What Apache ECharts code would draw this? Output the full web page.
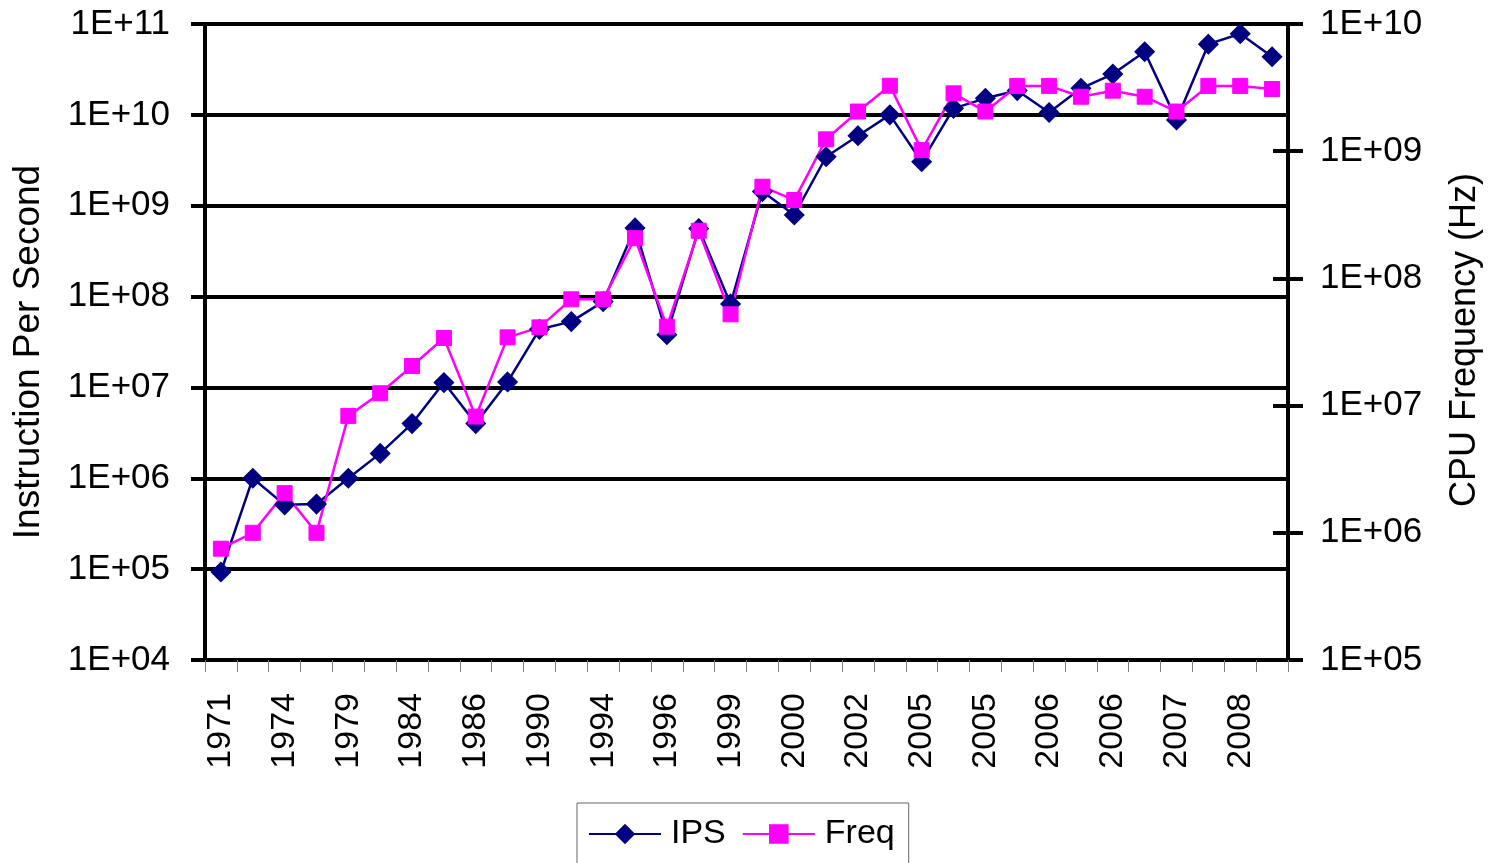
<!DOCTYPE html>
<html>
<head>
<meta charset="utf-8">
<script src="https://cdn.jsdelivr.net/npm/echarts@6/dist/echarts.min.js"></script>
<style>
  html, body { margin: 0; padding: 0; background: #fff; }
  #chart { width: 1491px; height: 863px; }
</style>
</head>
<body>
<div id="chart"></div>
<script>
const categories = ['1971','1972','1974','1976','1979','1982','1984','1985','1986','1988','1990','1992','1994','1995','1996','1997','1999','1999','2000','2001','2002','2003','2005','2005','2005','2006','2006','2006','2006','2007','2007','2008','2008','2008'];
const ipsValues = [9.3e4, 1.0e6, 5.1e5, 5.2e5, 1.0e6, 1.88e6, 4.0e6, 1.13e7, 4.0e6, 1.15e7, 4.36e7, 5.3e7, 8.8e7, 5.7e8, 3.8e7, 5.6e8, 8.3e7, 1.43e9, 7.9e8, 3.46e9, 5.9e9, 1.0e10, 3.05e9, 1.18e10, 1.52e10, 1.85e10, 1.06e10, 1.96e10, 2.81e10, 4.95e10, 8.8e9, 6.0e10, 7.8e10, 4.36e10];
const freqValues = [7.5e5, 1.0e6, 2.05e6, 1.0e6, 8.3e6, 1.25e7, 2.05e7, 3.4e7, 8.2e6, 3.44e7, 4.12e7, 6.85e7, 6.85e7, 2.07e8, 4.17e7, 2.37e8, 5.22e7, 5.26e8, 4.13e8, 1.24e9, 2.05e9, 3.27e9, 1.02e9, 2.85e9, 2.05e9, 3.26e9, 3.26e9, 2.68e9, 2.99e9, 2.68e9, 2.05e9, 3.26e9, 3.26e9, 3.08e9];
const leftRange = [1e4, 1e11];
const rightRange = [1e5, 1e10];
const leftTitle = 'Instruction Per Second';
const rightTitle = 'CPU Frequency (Hz)';

const FONT = 'Liberation Sans';
function sci(v) {
  const e = Math.round(Math.log10(v));
  return '1E+' + String(e).padStart(2, '0');
}

const chart = echarts.init(document.getElementById('chart'), null, { renderer: 'canvas' });
chart.setOption({
  animation: false,
  backgroundColor: '#ffffff',
  textStyle: { fontFamily: FONT },
  grid: { left: 205, right: 203, top: 24, bottom: 203, containLabel: false },
  graphic: [
    {
      type: 'text', x: 29, y: 352, rotation: Math.PI / 2,
      style: { text: leftTitle, font: '37px "Liberation Sans"', fill: '#000', align: 'center', verticalAlign: 'middle' }
    },
    {
      type: 'text', x: 1465, y: 340, rotation: Math.PI / 2,
      style: { text: rightTitle, font: '36px "Liberation Sans"', fill: '#000', align: 'center', verticalAlign: 'middle' }
    }
  ],
  legend: {
    left: 577, top: 803,
    itemWidth: 72, itemHeight: 22, itemGap: 16,
    padding: [14, 14, 14, 11],
    borderColor: '#666666', borderWidth: 1,
    textStyle: { fontSize: 34, color: '#000', fontFamily: FONT, padding: [0, 0, 0, 5] },
    data: ['IPS', 'Freq']
  },
  xAxis: {
    type: 'category',
    data: categories,
    boundaryGap: true,
    axisLine: { show: true, lineStyle: { color: '#000', width: 4 } },
    axisTick: { show: true, interval: 0, length: 12, lineStyle: { color: '#808080', width: 1 } },
    axisLabel: { interval: 1, rotate: 90, margin: 33, fontSize: 34, color: '#000', fontFamily: FONT },
    splitLine: { show: false }
  },
  yAxis: [
    {
      type: 'log', logBase: 10, min: leftRange[0], max: leftRange[1], splitNumber: 7,
      position: 'left',
      axisLine: { show: true, lineStyle: { color: '#000', width: 4 } },
      axisTick: { show: true, length: 14, lineStyle: { color: '#000', width: 4 } },
      axisLabel: { margin: 35, fontSize: 35, color: '#000', fontFamily: FONT, formatter: sci },
      splitLine: { show: true, lineStyle: { color: '#000', width: 4 } },
      minorTick: { show: false }, minorSplitLine: { show: false }
    },
    {
      type: 'log', logBase: 10, min: rightRange[0], max: rightRange[1], splitNumber: 5,
      position: 'right',
      axisLine: { show: true, lineStyle: { color: '#000', width: 4 } },
      axisTick: { show: true, length: 15, lineStyle: { color: '#000', width: 4 } },
      axisLabel: { margin: 32, fontSize: 35, color: '#000', fontFamily: FONT, formatter: sci },
      splitLine: { show: false }
    },
    {
      type: 'log', logBase: 10, min: rightRange[0], max: rightRange[1], splitNumber: 5,
      position: 'right', offset: 0,
      axisLine: { show: false },
      axisTick: { show: true, inside: true, length: 15, lineStyle: { color: '#000', width: 4 } },
      axisLabel: { show: false },
      splitLine: { show: false }
    }
  ],
  series: [
    {
      name: 'IPS', type: 'line', yAxisIndex: 0, data: ipsValues,
      symbol: 'diamond', symbolSize: 19,
      lineStyle: { color: '#000080', width: 2.5 },
      itemStyle: { color: '#000080', borderColor: '#000080', borderWidth: 1.5 },
      emphasis: { disabled: true }
    },
    {
      name: 'Freq', type: 'line', yAxisIndex: 1, data: freqValues,
      symbol: 'rect', symbolSize: 15,
      lineStyle: { color: '#ff00ff', width: 2.5 },
      itemStyle: { color: '#ff00ff', borderColor: '#ff00ff', borderWidth: 1 },
      emphasis: { disabled: true }
    }
  ]
});
</script>
</body>
</html>
